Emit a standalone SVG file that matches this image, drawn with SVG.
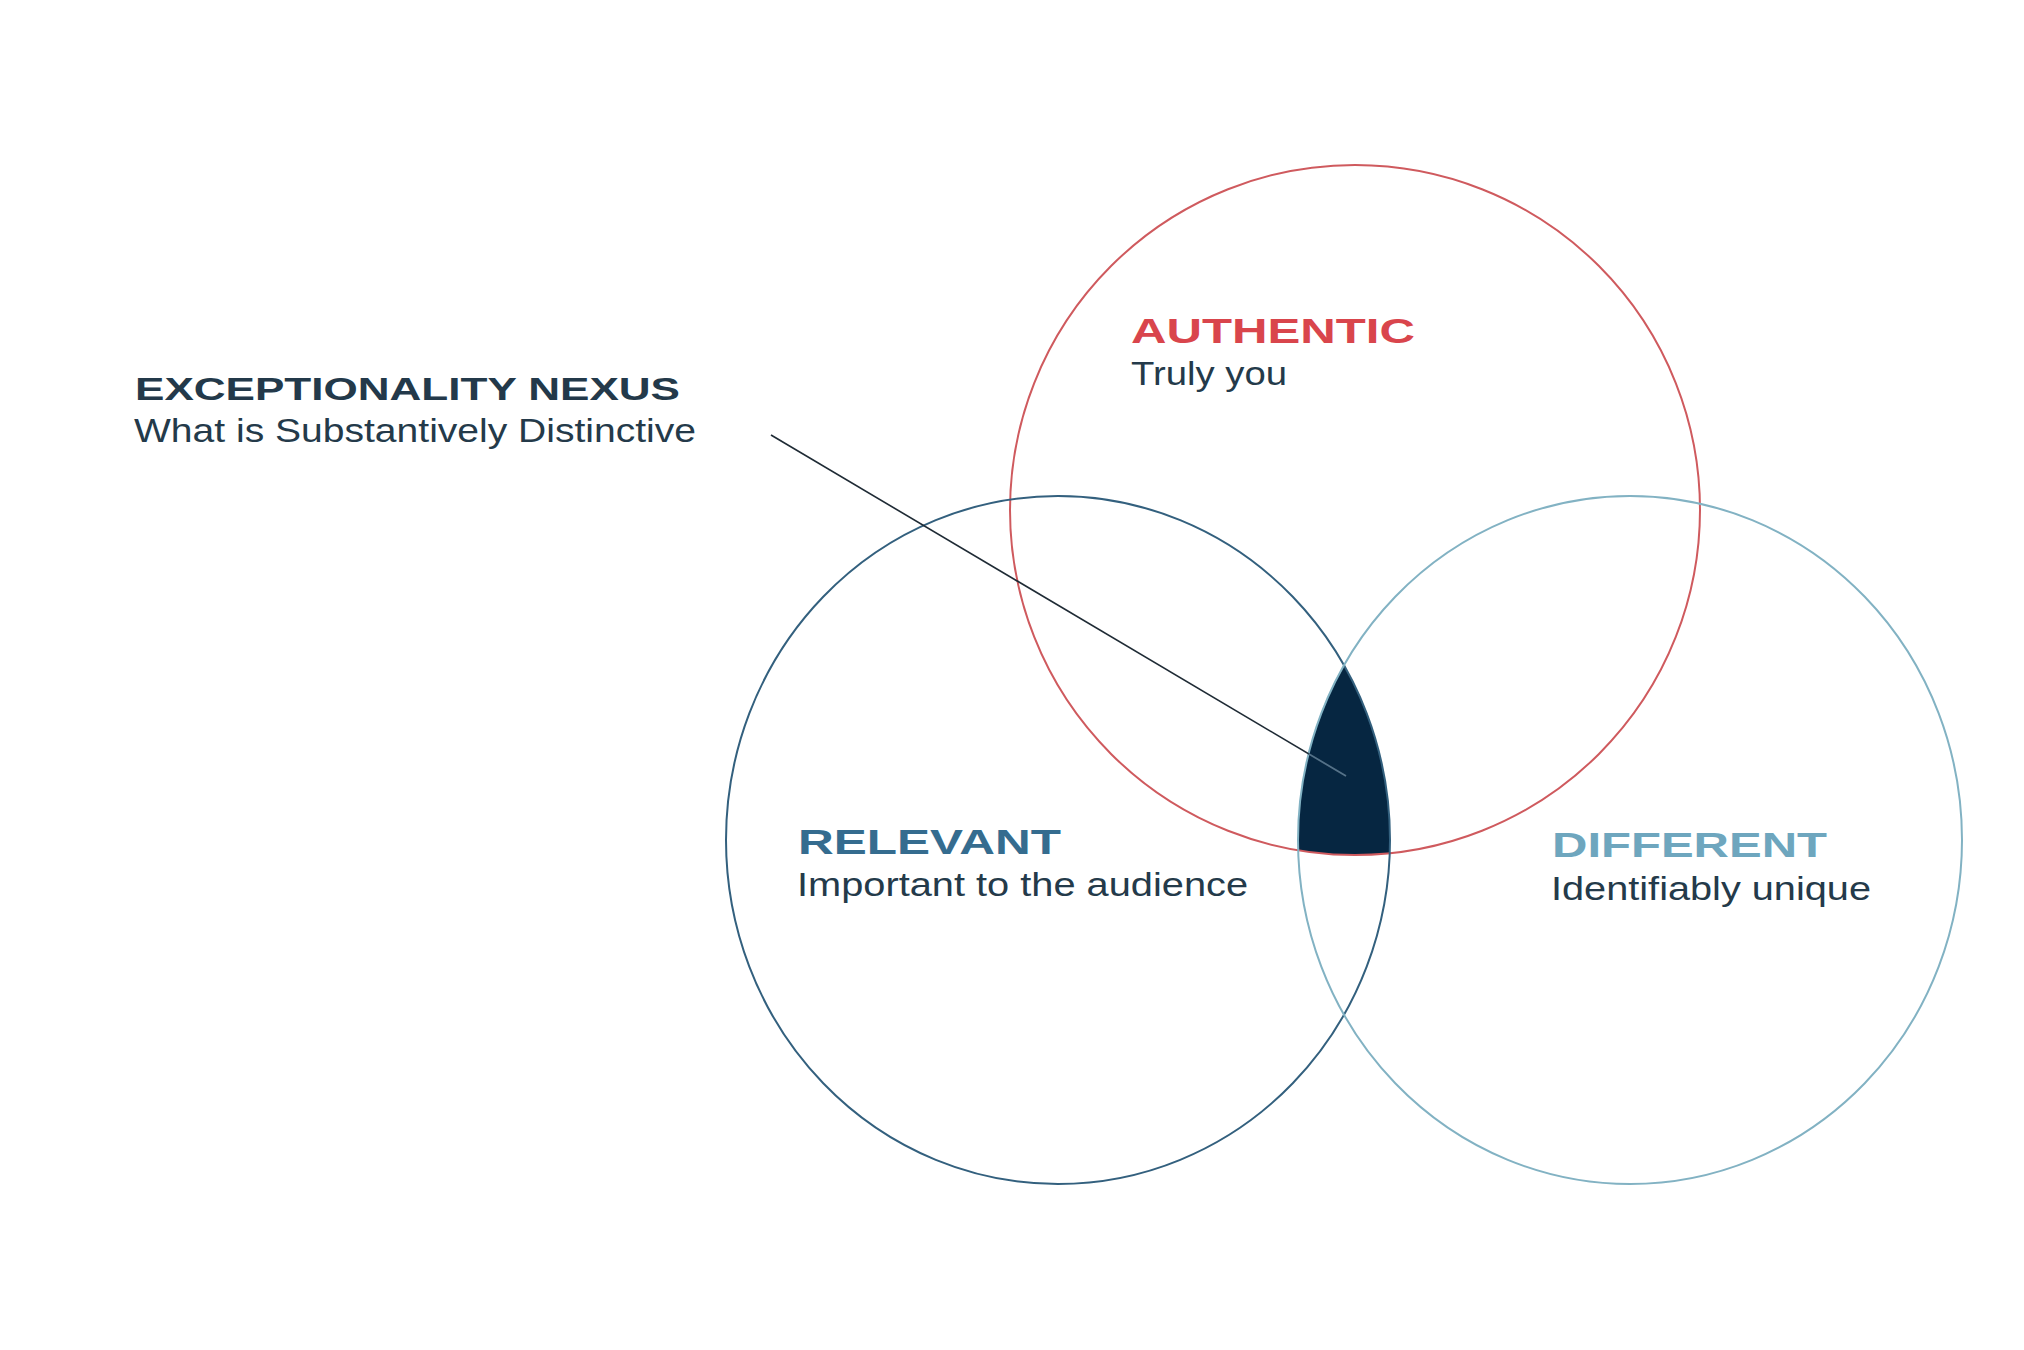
<svg xmlns="http://www.w3.org/2000/svg" width="2024" height="1350" viewBox="0 0 2024 1350">
<style>
.ring{fill:none;stroke-width:2}
.head{font-family:"Liberation Sans",Arial,sans-serif;font-weight:bold}
.sub{font-family:"Liberation Sans",Arial,sans-serif;fill:#243a4a}
</style>
<defs>
<clipPath id="cRel"><ellipse cx="1058" cy="840" rx="332" ry="344"/></clipPath>
<clipPath id="cDif"><ellipse cx="1630" cy="840" rx="332" ry="344"/></clipPath>
<clipPath id="cAut"><circle cx="1355" cy="510" r="345"/></clipPath>
</defs>
<rect width="2024" height="1350" fill="#ffffff"/>
<g id="nexus-area" clip-path="url(#cRel)"><g clip-path="url(#cDif)"><circle cx="1355" cy="510" r="345" fill="#062641"/></g></g>
<g id="authentic">
<circle class="ring" cx="1355" cy="510" r="345" stroke="#cf5a5e"/>
<text class="head" x="1131" y="343" font-size="35" fill="#d9454c" textLength="284" lengthAdjust="spacingAndGlyphs">AUTHENTIC</text>
<text class="sub" x="1131" y="385" font-size="33" textLength="156" lengthAdjust="spacingAndGlyphs">Truly you</text>
</g>
<g id="relevant">
<ellipse class="ring" cx="1058" cy="840" rx="332" ry="344" stroke="#33607e"/>
<text class="head" x="798" y="854" font-size="35" fill="#356c8f" textLength="263" lengthAdjust="spacingAndGlyphs">RELEVANT</text>
<text class="sub" x="797" y="896" font-size="34" textLength="451" lengthAdjust="spacingAndGlyphs">Important to the audience</text>
</g>
<g id="different">
<ellipse class="ring" cx="1630" cy="840" rx="332" ry="344" stroke="#82b2c3"/>
<text class="head" x="1552" y="857" font-size="35" fill="#6ea6be" textLength="275" lengthAdjust="spacingAndGlyphs">DIFFERENT</text>
<text class="sub" x="1551" y="900" font-size="34" textLength="320" lengthAdjust="spacingAndGlyphs">Identifiably unique</text>
</g>
<g id="exceptionality-nexus">
<text class="head" x="135" y="400" font-size="32" fill="#23394a" textLength="545" lengthAdjust="spacingAndGlyphs">EXCEPTIONALITY NEXUS</text>
<text class="sub" x="134" y="442" font-size="34" textLength="562" lengthAdjust="spacingAndGlyphs">What is Substantively Distinctive</text>
</g>
<g id="connectors">
<line x1="771" y1="435" x2="1346" y2="776" stroke="#1f2b35" stroke-width="1.6"/>
<g clip-path="url(#cRel)"><g clip-path="url(#cDif)"><g clip-path="url(#cAut)"><line x1="771" y1="435" x2="1346" y2="776" stroke="#53728a" stroke-width="1.8"/></g></g></g>
</g>
</svg>
